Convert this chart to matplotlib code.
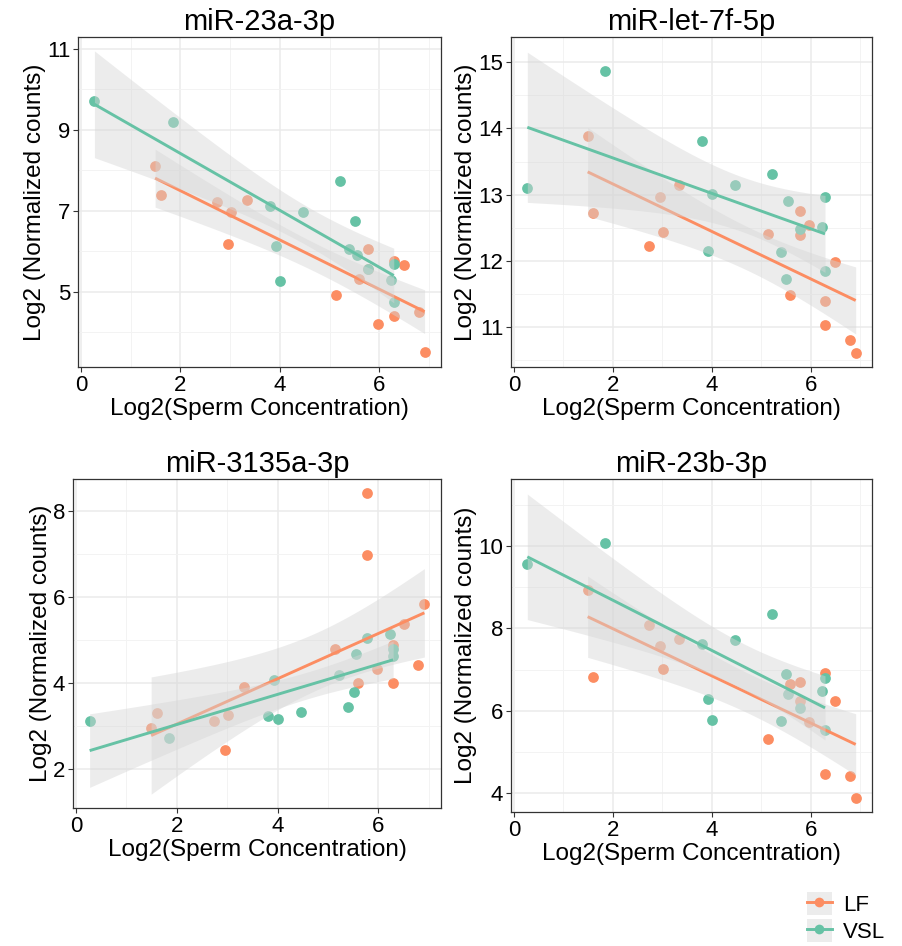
import matplotlib

matplotlib.use("Agg")
import matplotlib.pyplot as plt
import numpy as np
from matplotlib.lines import Line2D
from matplotlib.patches import Patch
from matplotlib.ticker import MultipleLocator

# Log2 sperm concentration per sample
lf_x = [1.49, 1.60, 2.73, 2.95, 3.01, 3.33, 5.13, 5.59, 5.78, 5.78, 5.97, 6.29, 6.29, 6.50, 6.79, 6.91]
vsl_x = [0.27, 1.85, 3.81, 3.92, 4.00, 4.46, 5.21, 5.39, 5.51, 5.55, 5.78, 6.23, 6.29, 6.29]

# Log2 normalized counts, one list per miRNA and group
mir23a_lf = [8.10, 7.40, 7.21, 6.17, 6.97, 7.27, 4.93, 5.32, 6.06, 5.57, 4.21, 5.76, 4.40, 5.65, 4.51, 3.52]
mir23a_vsl = [9.72, 9.19, 7.11, 6.14, 5.26, 6.97, 7.73, 6.05, 6.75, 5.90, 5.57, 5.28, 5.69, 4.74]
let7f_lf = [13.88, 12.72, 12.22, 12.97, 12.44, 13.15, 12.41, 11.49, 12.76, 12.39, 12.54, 11.39, 11.03, 11.98, 10.81, 10.61]
let7f_vsl = [13.10, 14.87, 13.81, 12.15, 13.01, 13.15, 13.31, 12.14, 11.73, 12.90, 12.49, 12.52, 12.97, 11.85]
mir3135a_lf = [2.95, 3.31, 3.11, 2.43, 3.26, 3.91, 4.79, 3.99, 8.42, 6.99, 4.32, 4.01, 4.88, 5.38, 4.42, 5.83]
mir3135a_vsl = [3.11, 2.71, 3.24, 4.08, 3.16, 3.33, 4.19, 3.43, 3.80, 4.67, 5.04, 5.14, 4.79, 4.62]
mir23b_lf = [8.92, 6.82, 8.07, 7.57, 7.01, 7.74, 5.32, 6.65, 6.69, 6.24, 5.72, 6.91, 4.46, 6.24, 4.42, 3.88]
mir23b_vsl = [9.56, 10.06, 7.62, 6.30, 5.78, 7.72, 8.34, 5.76, 6.90, 6.40, 6.06, 6.49, 6.80, 5.53]

titles = ["miR-23a-3p", "miR-let-7f-5p", "miR-3135a-3p", "miR-23b-3p"]
groups = ["LF", "VSL"]

COLORS = {"LF": "#FC8D62", "VSL": "#66C2A5"}
RIBBON = "#D6D6D6"
RIBBON_ALPHA = 0.45
T975 = {12: 2.179, 14: 2.145}

W, H = 903, 946
# panel boxes in pixels: left, right, top, bottom
BOXES = [(78, 441, 37, 367), (511, 872, 37, 367), (73, 441, 479, 808), (511, 872, 479, 812)]
YLIMS = [(3.14, 11.29), (10.40, 15.38), (1.09, 8.75), (3.55, 11.62)]
YSTEPS = [2, 1, 2, 2]
YSTARTS = [5, 11, 2, 4]

plt.rcParams.update(
    {
        "font.family": ["Liberation Sans", "DejaVu Sans"],
        "axes.edgecolor": "#333333",
        "axes.linewidth": 0.9,
        "xtick.color": "#333333",
        "ytick.color": "#333333",
        "xtick.labelcolor": "black",
        "ytick.labelcolor": "black",
    }
)


def fit_band(x, y, n=100):
    x = np.asarray(x, dtype=float)
    y = np.asarray(y, dtype=float)
    slope, icpt = np.polyfit(x, y, 1)
    xs = np.linspace(x.min(), x.max(), n)
    dof = len(x) - 2
    s = np.sqrt(np.sum((y - (icpt + slope * x)) ** 2) / dof)
    se = s * np.sqrt(1 / len(x) + (xs - x.mean()) ** 2 / np.sum((x - x.mean()) ** 2))
    yhat = icpt + slope * xs
    return xs, yhat, yhat - T975[dof] * se, yhat + T975[dof] * se


def draw_panel(ax, title, lf_y, vsl_y, ylim, ystep, ystart):
    data = {"LF": (lf_x, lf_y), "VSL": (vsl_x, vsl_y)}
    for g in groups:
        x, y = data[g]
        ax.scatter(x, y, s=60, color=COLORS[g], linewidths=0, zorder=2)
    for g in groups:
        x, y = data[g]
        xs, yhat, lo, hi = fit_band(x, y)
        ax.fill_between(xs, lo, hi, color=RIBBON, alpha=RIBBON_ALPHA, linewidth=0, zorder=3)
        ax.plot(xs, yhat, color=COLORS[g], lw=2.1, zorder=3, solid_capstyle="butt")

    ax.set_xlim(-0.06, 7.24)
    ax.set_ylim(*ylim)
    ax.xaxis.set_major_locator(MultipleLocator(2))
    ax.xaxis.set_minor_locator(MultipleLocator(1))
    yt = np.arange(ystart, ylim[1], ystep)
    ax.set_yticks(yt)
    ax.set_yticklabels([f"{v:g}" for v in yt])
    ax.yaxis.set_minor_locator(MultipleLocator(ystep / 2))
    ax.grid(which="major", color="#EBEBEB", lw=1.1, zorder=0)
    ax.grid(which="minor", color="#F3F3F3", lw=0.7, zorder=0)
    ax.set_axisbelow(True)
    ax.tick_params(which="major", length=3.5, width=0.8, labelsize=16, pad=2)
    ax.tick_params(which="minor", length=0)
    ax.set_title(title, fontsize=21, pad=5)
    ax.set_xlabel("Log2(Sperm Concentration)", fontsize=17.5, labelpad=2)
    ax.set_ylabel("Log2 (Normalized counts)", fontsize=17.5, labelpad=1)


fig = plt.figure(figsize=(W / 100, H / 100), dpi=100)
panel_data = [
    (mir23a_lf, mir23a_vsl),
    (let7f_lf, let7f_vsl),
    (mir3135a_lf, mir3135a_vsl),
    (mir23b_lf, mir23b_vsl),
]
for i, (l, r, t, b) in enumerate(BOXES):
    ax = fig.add_axes([l / W, 1 - b / H, (r - l) / W, (b - t) / H])
    draw_panel(ax, titles[i], panel_data[i][0], panel_data[i][1], YLIMS[i], YSTEPS[i], YSTARTS[i])

handles = [
    (
        Patch(facecolor=RIBBON, alpha=RIBBON_ALPHA, edgecolor="none"),
        Line2D([], [], color=COLORS[g], lw=2.1, marker="o", ms=7, mec="none"),
    )
    for g in groups
]
fig.legend(
    handles,
    groups,
    loc="upper left",
    bbox_to_anchor=(805 / W, 1 - 890 / H),
    frameon=False,
    fontsize=16,
    handlelength=1.1,
    handleheight=1.2,
    handletextpad=0.5,
    labelspacing=0.15,
    borderpad=0.1,
    borderaxespad=0,
)

fig.savefig("out.png", dpi=100)
